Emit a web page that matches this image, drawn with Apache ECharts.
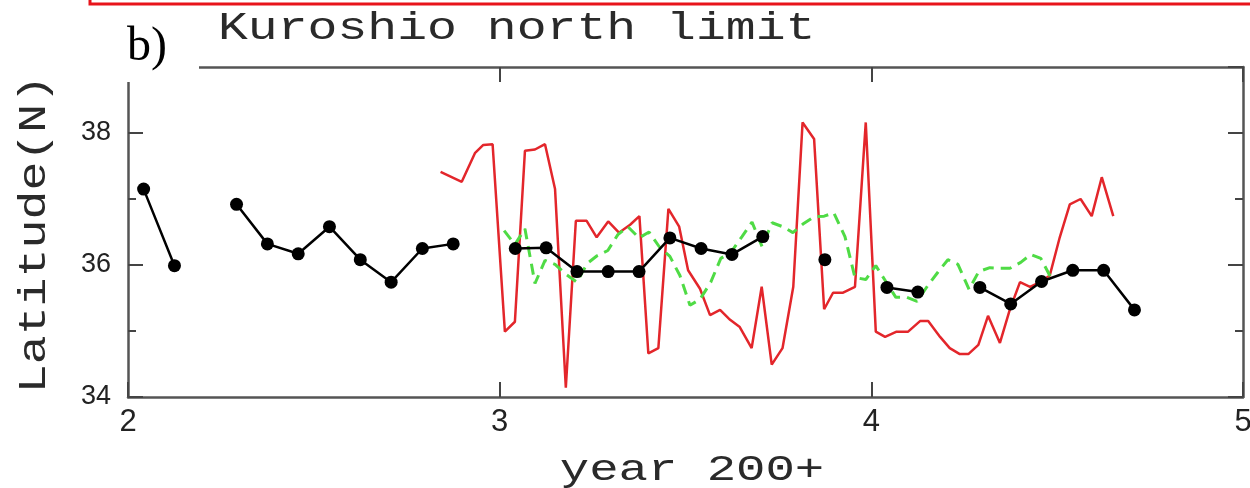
<!DOCTYPE html>
<html>
<head>
<meta charset="utf-8">
<title>Kuroshio north limit</title>
<script src="https://cdn.jsdelivr.net/npm/echarts@6/dist/echarts.min.js"></script>
<style>
  html, body { margin: 0; padding: 0; background: #fff; }
  #chart { width: 1250px; height: 488px; }
</style>
</head>
<body>
<div id="chart"></div>
<script>
// x axis ticks (year 200+)
const xTicks = [2, 3, 4, 5]
const yTicks = [34, 36, 38]

// monthly latitude (black dots), '-' = no data
const blackTime = [2.042, 2.125, 2.208, 2.292, 2.375, 2.458, 2.542, 2.625, 2.708, 2.792, 2.875, 2.958,
  3.042, 3.125, 3.208, 3.292, 3.375, 3.458, 3.542, 3.625, 3.708, 3.792, 3.875, 3.958,
  4.042, 4.125, 4.208, 4.292, 4.375, 4.458, 4.542, 4.625, 4.708]
const blackLat = [37.15, 35.99, '-', 36.92, 36.32, 36.17, 36.58, 36.08, 35.74, 36.25, 36.32, '-',
  36.25, 36.26, 35.90, 35.90, 35.90, 36.41, 36.25, 36.16, 36.43, '-', 36.08, '-',
  35.66, 35.59, '-', 35.66, 35.41, 35.75, 35.92, 35.92, 35.32]

// red line (10-day values)
const redTime = [2.841, 2.898, 2.934, 2.956, 2.981, 3.014, 3.041, 3.068, 3.095, 3.122, 3.149, 3.178,
  3.205, 3.234, 3.261, 3.292, 3.321, 3.351, 3.376, 3.400, 3.427, 3.454, 3.483, 3.507,
  3.539, 3.566, 3.593, 3.620, 3.646, 3.678, 3.705, 3.732, 3.761, 3.790, 3.815, 3.846,
  3.873, 3.897, 3.924, 3.956, 3.985, 4.012, 4.037, 4.068, 4.099, 4.131, 4.153, 4.185,
  4.211, 4.238, 4.261, 4.288, 4.314, 4.346, 4.373, 4.400, 4.427, 4.454, 4.480, 4.507,
  4.534, 4.563, 4.593, 4.620, 4.651]
const redLat = [37.41, 37.26, 37.70, 37.82, 37.83, 34.99, 35.14, 37.73, 37.75, 37.83, 37.15, 34.14,
  36.67, 36.67, 36.42, 36.66, 36.49, 36.61, 36.74, 34.66, 34.74, 36.85, 36.58, 35.92,
  35.64, 35.24, 35.32, 35.17, 35.06, 34.74, 35.67, 34.49, 34.74, 35.67, 38.16, 37.91,
  35.33, 35.58, 35.58, 35.67, 38.16, 34.99, 34.91, 34.99, 34.99, 35.15, 35.15, 34.91,
  34.74, 34.65, 34.65, 34.79, 35.23, 34.82, 35.33, 35.74, 35.67, 35.74, 35.84, 36.42,
  36.92, 37.00, 36.74, 37.33, 36.74]

// green dashed line
const greenTime = [3.012, 3.041, 3.068, 3.095, 3.122, 3.149, 3.178, 3.208, 3.235, 3.262, 3.291, 3.318,
  3.345, 3.375, 3.402, 3.429, 3.458, 3.485, 3.512, 3.539, 3.568, 3.595, 3.622, 3.652,
  3.679, 3.706, 3.733, 3.762, 3.789, 3.816, 3.846, 3.873, 3.899, 3.929, 3.956, 3.985,
  4.012, 4.039, 4.066, 4.096, 4.123, 4.152, 4.179, 4.206, 4.233, 4.263, 4.289, 4.319,
  4.346, 4.373, 4.402, 4.429, 4.456, 4.483]
const greenLat = [36.52, 36.31, 36.55, 35.72, 36.07, 36.01, 35.86, 35.74, 36.02, 36.14, 36.22, 36.46,
  36.58, 36.41, 36.50, 36.28, 36.13, 35.84, 35.39, 35.48, 35.74, 36.10, 36.19, 36.43,
  36.65, 36.28, 36.64, 36.58, 36.49, 36.62, 36.73, 36.74, 36.79, 36.43, 35.81, 35.78,
  35.99, 35.75, 35.51, 35.51, 35.45, 35.69, 35.89, 36.08, 36.01, 35.63, 35.90, 35.96,
  35.95, 35.95, 36.04, 36.16, 36.10, 35.81]

const pairs = (xs, ys) => xs.map((x, i) => [x, ys[i]])

const frameColor = '#555'
const tickStyle = { color: '#444', width: 2 }

// one axis builder for the box frame
function xAx (pos, label) {
  return {
    type: 'value', position: pos, min: xTicks[0], max: xTicks[xTicks.length - 1], interval: 1,
    axisLine: { show: true, lineStyle: { color: frameColor, width: 2.5 } },
    axisTick: { show: true, inside: true, length: 15, lineStyle: tickStyle },
    axisLabel: {
      show: label, margin: 10, fontSize: 31, color: '#222', fontFamily: 'Liberation Sans',
      showMinLabel: true, showMaxLabel: true
    },
    splitLine: { show: false }
  }
}
function yAx (pos, interval, tickLen, label, line) {
  return {
    type: 'value', position: pos, min: 34, max: 39, interval: interval,
    axisLine: { show: line, onZero: false, lineStyle: { color: frameColor, width: 2.5 } },
    axisTick: { show: true, inside: true, length: tickLen, lineStyle: tickStyle },
    axisLabel: {
      show: label, margin: 17, fontSize: 27, color: '#222', fontFamily: 'Liberation Sans',
      showMaxLabel: false,
      formatter: v => (yTicks.indexOf(v) >= 0 ? String(v) : '')
    },
    splitLine: { show: false }
  }
}

const chart = echarts.init(document.getElementById('chart'), null, { renderer: 'canvas' })
chart.setOption({
  animation: false,
  backgroundColor: '#fff',
  grid: { left: 128, right: 7, top: 67, bottom: 91, containLabel: false, outerBoundsMode: 'none' },
  xAxis: [xAx('bottom', true), xAx('top', false)],
  yAxis: [
    yAx('left', 2, 15, true, true),
    yAx('left', 1, 8, false, false),
    yAx('right', 2, 15, false, true),
    yAx('right', 1, 8, false, false)
  ],
  series: [
    {
      name: 'red', type: 'line', data: pairs(redTime, redLat),
      showSymbol: false, symbol: 'none',
      lineStyle: { color: '#e3262b', width: 2.5 }, z: 2
    },
    {
      name: 'green', type: 'line', data: pairs(greenTime, greenLat),
      showSymbol: false, symbol: 'none',
      lineStyle: { color: '#4fdb45', width: 3, type: [11, 7] }, z: 3
    },
    {
      name: 'black', type: 'line', data: pairs(blackTime, blackLat),
      connectNulls: false, symbol: 'circle', symbolSize: 13,
      itemStyle: { color: '#000' },
      lineStyle: { color: '#000', width: 2.5 }, z: 4
    }
  ],
  graphic: [
    // red frame edge at the top of the figure
    {
      type: 'rect', z: 60, silent: true,
      shape: { x: 90, y: -20, width: 1200, height: 24 },
      style: { fill: null, stroke: '#e8141b', lineWidth: 3 }
    },
    // panel label box hiding the frame corner
    {
      type: 'rect', z: 50, silent: true,
      shape: { x: 100, y: 6, width: 99, height: 76 },
      style: { fill: '#fff' }
    },
    {
      type: 'text', z: 61, x: 127, y: 47, silent: true,
      style: { text: 'b)', font: '48px "Liberation Serif"', fill: '#000', align: 'left', verticalAlign: 'middle' }
    },
    {
      type: 'text', z: 61, x: 218, y: 29, scaleX: 1.31, silent: true,
      style: { text: 'Kuroshio north limit', font: '38px "Liberation Mono"', fill: '#2a2a2a', align: 'left', verticalAlign: 'middle' }
    },
    {
      type: 'text', z: 61, x: 35, y: 234, rotation: Math.PI / 2, scaleX: 1.27, silent: true,
      style: { text: 'Latitude(N)', font: '38px "Liberation Mono"', fill: '#2a2a2a', align: 'center', verticalAlign: 'middle' }
    },
    {
      type: 'text', z: 61, x: 692, y: 470, scaleX: 1.36, silent: true,
      style: { text: 'year 200+', font: '36px "Liberation Mono"', fill: '#2a2a2a', align: 'center', verticalAlign: 'middle' }
    }
  ]
})
</script>
</body>
</html>
